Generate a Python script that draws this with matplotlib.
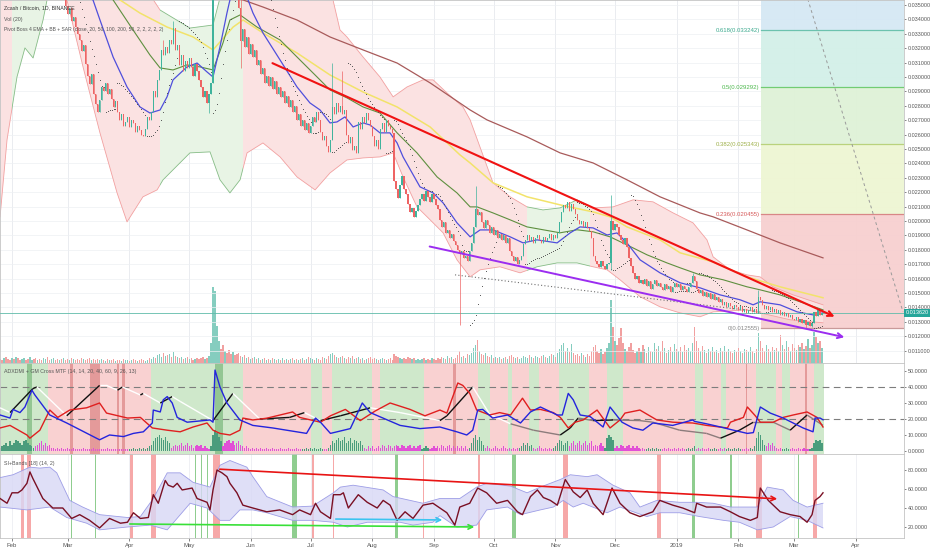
import numpy as np
import matplotlib
matplotlib.use("Agg")
import matplotlib.pyplot as plt
import matplotlib.dates as mdates
from matplotlib import font_manager
from matplotlib.patches import Rectangle
from matplotlib.collections import LineCollection
from matplotlib.ticker import FuncFormatter
from datetime import datetime, timedelta

# narrow font like the TradingView screenshot, fall back to Liberation Sans
try:
    font_manager.findfont("Liberation Sans Narrow", fallback_to_default=False)
    FONT, FS = "Liberation Sans Narrow", 1.0
except ValueError:
    FONT, FS = "Liberation Sans", 0.83
plt.rcParams["font.family"] = [FONT, "DejaVu Sans"]

# Zcash / Bitcoin, 1D, BINANCE
# prices in 1e-5 BTC, days counted from 2018-02-01, first candle 2018-01-26
first_day = -6
first_open = 4150
closes = [
    4120, 4050, 4180, 4010, 3950, 3880, 3920, 3760, 3840, 3790,
    3720, 3810, 3880, 3760, 3690, 3750, 3820, 3700, 3660, 3740,
    3690, 3630, 3710, 3780, 3650, 3600, 3680, 3720, 3640, 3590,
    3620, 3560, 3580, 3490, 3440, 3480, 3390, 3420, 3350, 3300,
    3260, 3180, 3220, 3090, 3010, 2950, 3020, 2880, 2810, 2760,
    2840, 2930, 2900, 2960, 2880, 2920, 2850, 2790, 2830, 2760,
    2700, 2740, 2660, 2690, 2720, 2650, 2700, 2680, 2620, 2660,
    2630, 2600, 2590, 2640, 2720, 2700, 2760, 2900, 2860, 2980,
    3050, 3190, 3150, 3210, 3170, 3260, 3230, 3340, 3190, 3220,
    3080, 3150, 3040, 3110, 3060, 3130, 3070, 3010, 3090, 3040,
    2980, 2930, 2860, 2900, 2820, 2880, 2960, 3700, 3900, 4050,
    4200, 4080, 3950, 4010, 3870, 3800, 3720, 3780, 3650, 3600,
    3480, 3250, 3330, 3210, 3280, 3160, 3230, 3140, 3190, 3080,
    3120, 3020, 3060, 2960, 3010, 2940, 3000, 2920, 2970, 2880,
    2930, 2860, 2900, 2820, 2870, 2790, 2840, 2760, 2800, 2700,
    2740, 2660, 2700, 2630, 2680, 2610, 2660, 2720, 2690, 2760,
    2700, 2620, 2560, 2590, 2520, 2480, 2560, 2790, 2740, 2820,
    2760, 2800, 2740, 2770, 2600, 2540, 2580, 2490, 2520, 2470,
    2690, 2640, 2720, 2680, 2750, 2700, 2660, 2590, 2520, 2560,
    2500, 2640, 2680, 2620, 2700, 2660, 2640, 2610, 2280, 2220,
    2160, 2250, 2310, 2220, 2190, 2120, 2060, 2090, 2030, 2070,
    2110, 2150, 2190, 2140, 2210, 2170, 2130, 2190, 2150, 2110,
    2080, 2010, 1960, 1990, 1920, 1940, 1880, 1910, 1860, 1830,
    1800, 1770, 1790, 1740, 1760, 1720, 1790, 1850, 1960, 2080,
    2040, 2060, 1990, 1950, 2010, 1970, 1920, 1960, 1900, 1940,
    1880, 1910, 1870, 1900, 1850, 1880, 1790, 1760, 1720, 1750,
    1700, 1730, 1760, 1840, 1870, 1900, 1860, 1890, 1850, 1880,
    1900, 1870, 1850, 1890, 1860, 1880, 1910, 1870, 1900, 1880,
    1920, 1990, 2060, 2110, 2090, 2130, 2070, 2120, 2080, 2050,
    2010, 1980, 2000, 1960, 1990, 1950, 1930, 1880, 1760, 1720,
    1700, 1680, 1720, 1690, 1670, 1700, 1710, 2000, 1940, 1980,
    1960, 1900, 1870, 1840, 1880, 1820, 1740, 1690, 1640, 1600,
    1620, 1570, 1590, 1560, 1600, 1550, 1580, 1530, 1560, 1590,
    1550, 1570, 1540, 1520, 1560, 1530, 1550, 1510, 1540, 1570,
    1540, 1560, 1520, 1550, 1530, 1510, 1540, 1570, 1620, 1580,
    1530, 1500, 1520, 1480, 1510, 1470, 1500, 1460, 1490, 1450,
    1470, 1440, 1460, 1420, 1440, 1400, 1430, 1410, 1390, 1420,
    1400, 1380, 1410, 1370, 1390, 1360, 1380, 1400, 1370, 1390,
    1360, 1470, 1450, 1420, 1390, 1410, 1380, 1400, 1370, 1390,
    1360, 1380, 1350, 1370, 1340, 1360, 1330, 1350, 1320, 1310,
    1330, 1300, 1320, 1290, 1310, 1280, 1300, 1270, 1290, 1370,
    1340, 1380, 1350, 1362,
]
volumes = [
    4, 3, 5, 6, 4, 3, 5, 4, 6, 5,
    3, 4, 5, 3, 4, 6, 3, 4, 5, 3,
    4, 3, 5, 4, 6, 3, 4, 5, 3, 4,
    3, 4, 5, 3, 4, 3, 5, 4, 3, 4,
    3, 5, 4, 3, 4, 5, 3, 4, 3, 4,
    3, 4, 3, 2, 4, 3, 3, 4, 2, 3,
    3, 2, 4, 3, 3, 2, 3, 4, 3, 2,
    3, 4, 3, 2, 3, 5, 4, 6, 5, 8,
    9, 6, 10, 7, 8, 9, 6, 11, 7, 6,
    5, 6, 4, 5, 6, 4, 5, 3, 4, 5,
    4, 5, 6, 4, 5, 7, 20, 76, 72, 37,
    22, 14, 18, 12, 10, 13, 9, 11, 8, 9,
    10, 7, 6, 8, 5, 6, 4, 5, 6, 4,
    5, 3, 4, 5, 3, 4, 3, 5, 4, 3,
    4, 3, 5, 3, 4, 3, 4, 5, 3, 4,
    3, 4, 5, 3, 4, 6, 5, 4, 3, 5,
    4, 3, 6, 5, 4, 7, 9, 10, 8, 6,
    5, 6, 7, 5, 4, 6, 5, 7, 4, 5,
    6, 4, 5, 3, 4, 5, 6, 4, 5, 4,
    3, 4, 5, 4, 3, 4, 5, 3, 9, 7,
    6, 5, 4, 5, 4, 6, 5, 4, 5, 3,
    4, 3, 4, 5, 3, 4, 3, 5, 4, 3,
    5, 4, 6, 5, 4, 7, 5, 6, 4, 5,
    8, 12, 6, 7, 5, 9, 8, 10, 15, 18,
    23, 12, 9, 8, 10, 7, 6, 8, 5, 6,
    5, 6, 4, 5, 6, 4, 7, 8, 6, 5,
    6, 4, 5, 7, 6, 5, 8, 6, 5, 7,
    6, 5, 7, 8, 6, 5, 7, 9, 8, 6,
    10, 14, 18, 20, 12, 15, 11, 19, 10, 8,
    9, 7, 10, 8, 6, 9, 7, 12, 16, 18,
    12, 10, 14, 9, 11, 15, 20, 63, 36, 22,
    18, 25, 35, 20, 14, 12, 16, 20, 13, 10,
    12, 15, 11, 18, 14, 10, 16, 12, 11, 20,
    14, 17, 12, 22, 15, 10, 13, 16, 11, 19,
    14, 12, 16, 11, 18, 13, 15, 12, 20, 36,
    22, 15, 12, 17, 13, 10, 14, 12, 16, 11,
    13, 10, 15, 12, 17, 11, 14, 12, 10, 13,
    11, 15, 12, 10, 14, 13, 11, 16, 12, 10,
    14, 30, 22, 15, 12, 18, 14, 11, 16, 13,
    15, 12, 28, 18, 14, 22, 16, 12, 19, 15,
    13, 18, 16, 20, 14, 17, 24, 15, 18, 31,
    26, 20, 22, 15,
]
osc_hist = [
    2, 3, 4, 5, 3, 6, 4, 5, 7, 6,
    5, 4, 6, 7, 5, 4, 3, 2, -3, -4,
    -5, -6, -4, -5, -3, -4, -2, -2, -1, -2,
    -1, -2, -1, -1, -2, -1, -1, -2, -1, -1,
    -1, -1, -2, -1, -1, -1, -1, -2, -1, -1,
    -1, -1, -1, -1, -2, -1, -1, -1, -1, -1,
    -1, -1, -1, -1, -1, 1, 1, 2, 1, 1,
    2, 1, 2, 1, 2, 3, 4, 6, 8, 9,
    10, 8, 7, 9, 6, 5, -2, -3, -4, -3,
    -4, -5, -3, -4, -5, -3, -4, -2, -3, -4,
    -3, -4, -2, -3, -2, -1, 3, 10, 13, 11,
    9, 6, -3, -5, -6, -7, -5, -6, -4, -5,
    -6, -4, -3, -2, -3, -2, -1, -2, -1, -2,
    -1, -2, -1, -1, -2, -1, -1, -2, -1, -1,
    -1, -2, -1, -1, -1, -2, -1, -1, -1, -2,
    -1, -1, 1, 1, 2, 1, 2, 1, 2, 1,
    1, 2, 1, -1, -1, 2, 4, 6, 5, 7,
    8, 6, 7, 9, 5, 6, 8, 5, 7, 6,
    5, 6, 4, -2, -1, -3, -2, -3, -1, -2,
    -3, -2, -4, -3, -2, -4, -3, -2, -3, -4,
    -3, -2, -4, -3, -2, -3, -4, -2, -3, -2,
    -3, -4, 1, 2, 3, 2, -1, -2, -3, -2,
    -3, -2, -4, -3, -2, -3, -4, -2, -3, -2,
    -3, -2, -3, -2, -3, -1, 2, 5, 8, 10,
    7, 9, 6, 4, -2, -3, -2, -1, -2, -3,
    -2, -1, -2, -3, -2, -1, -2, -1, -2, -1,
    -2, 2, 3, 5, 4, 5, 3, 4, -2, -1,
    -2, -3, -2, -1, -2, -1, -2, -1, 2, 3,
    5, 7, 6, 4, 5, 6, -3, -5, -6, -4,
    -5, -6, -4, -5, -6, -4, -5, -6, -3, -4,
    -3, -4, -5, -3, 2, 8, 10, 9, 7, -2,
    -3, -2, -4, -3, -2, -3, -4, -2, -3, -2,
    -3, -2, -1, -2, -1, 1, 2, 1, 2, 1,
    2, 1, 1, -1, -2, -1, -2, -1, -1, -2,
    -1, -2, -1, -2, -1, 1, 2, 1, 2, 3,
    -1, -2, -1, -2, -1, -1, -2, 1, 1, 2,
    1, -1, -2, -1, -2, 1, 2, 1, 1, 2,
    1, 2, 1, -1, -1, -2, -1, 2, 1, 3,
    8, 12, 10, 7, 4, -3, -5, -4, -5, -3,
    -2, -1, -2, 1, 1, 2, 1, -1, -2, -1,
    -1, -2, -1, -1, -2, -1, -1, 1, 2, 5,
    7, 6, 7, 5,
]

# notable wicks (day, high, low); nan = no wick on that side
nan = float("nan")
wick_day = [76, 81, 99, 115, 161, 166, 225, 233, 301, 342, 375, 399, 402]
wick_hi = [3260, 3390, nan, 3540, 3100, 3040, nan, 2240, 2180, 1640, 1520, nan, nan]
wick_lo = [nan, nan, 2750, 3060, nan, nan, 1279, nan, 1660, nan, nan, 1256, 1262]

# indicator lines: (day, price 1e-5 BTC)
ema20 = [(-6, 3900), (10, 3780), (25, 3680), (33, 3600), (40.7, 3535), (44.2, 3396), (50.8, 3139),
         (57.8, 2931), (64.3, 2792), (69.3, 2750), (74.4, 2771), (77.9, 2862), (80.9, 2980), (87.9, 3070),
         (93, 3097), (98, 3035), (101, 3000), (104.5, 3209), (108, 3444), (109.5, 3535), (113.6, 3610),
         (118.6, 3535), (121.1, 3444), (126.1, 3306), (134.7, 3118), (143.2, 2931), (149.7, 2820),
         (154.8, 2771), (159.8, 2681), (163.3, 2688), (167.3, 2723), (171.4, 2653), (176.4, 2681),
         (179.9, 2667), (184.9, 2612), (189.9, 2612), (193.5, 2542), (196.5, 2445), (205, 2237),
         (211.6, 2195), (216.6, 2126), (223.6, 1987), (230.2, 1890), (235.2, 1938), (241.7, 1938),
         (250.3, 1890), (256.8, 1848), (263.8, 1869), (273.9, 1848), (280.4, 1917), (285.4, 1959),
         (292, 1952), (299, 1903), (304, 1917), (309, 1848), (315.6, 1730), (325.6, 1640), (335.7, 1571),
         (345.7, 1536), (355.8, 1487), (365.8, 1453), (372.4, 1418), (375.9, 1439), (385.9, 1418),
         (394.5, 1369), (402.5, 1348), (407.5, 1362)]
ema50 = [(-6, 4000), (20, 3850), (40, 3700), (50.8, 3535), (60.8, 3327), (69.3, 3153), (74.4, 3063),
         (80.9, 3049), (87.9, 3084), (94.5, 3070), (101, 3049), (106, 3236), (109.5, 3396), (114.6, 3431),
         (123.1, 3347), (134.7, 3257), (143.2, 3139), (153.3, 3000), (159.8, 2910), (168.3, 2855),
         (176.4, 2792), (184.9, 2750), (193.5, 2612), (203.5, 2473), (213.6, 2306), (223.6, 2195),
         (230.2, 2098), (233.7, 2098), (241.7, 2056), (250.3, 2008), (258.8, 1959), (275.4, 1918),
         (283.9, 1939), (292, 1925), (300.5, 1890), (309, 1834), (319.1, 1765), (329.1, 1709),
         (335.7, 1675), (345.7, 1626), (357.3, 1592), (369.3, 1543), (375.9, 1522), (385.9, 1487),
         (396, 1439), (407.5, 1383)]
ema100 = [(-6, 3900), (30, 3800), (54.3, 3535), (64.3, 3444), (77.9, 3347), (91, 3278), (101, 3188),
          (111.1, 3347), (116.1, 3396), (126.1, 3306), (143.2, 3167), (159.8, 3014), (176.4, 2896),
          (193.5, 2792), (210.1, 2653), (225.1, 2459), (230.2, 2403), (241.7, 2265), (258.8, 2168),
          (275.4, 2112), (292, 2063), (300.5, 2029), (309, 1959), (325.6, 1869), (335.7, 1779),
          (352.3, 1716), (369.3, 1612), (385.9, 1543), (407.5, 1467)]
ema200 = [(-6, 3850), (60, 3700), (116.1, 3535), (126.1, 3486), (143.2, 3396), (159.8, 3278), (176.4, 3188),
          (193.5, 3097), (210.1, 2959), (230.2, 2771), (238.7, 2702), (258.8, 2584), (275.4, 2473),
          (292, 2403), (309, 2286), (325.6, 2168), (345.7, 2056), (352.3, 2029), (369.3, 1938),
          (385.9, 1848), (407.5, 1744)]
bb_upper = [(-6, 4576), (27.6, 4923), (57.8, 3812), (74.4, 3465), (89.4, 3340), (101, 3361), (105.5, 3604),
            (114.6, 3951), (134.7, 3951), (154.8, 3674), (161.3, 3535), (164.8, 3327), (168.3, 3278),
            (176.4, 3139), (184.9, 3000), (191.5, 2862), (198.5, 2931), (206.5, 2980), (211.6, 2980),
            (218.6, 2889), (226.6, 2792), (230.2, 2702), (241.7, 2265), (250.3, 2168), (258.8, 2098),
            (266.8, 2077), (275.4, 2091), (283.9, 2147), (292, 2091), (302, 2098), (312.1, 2147),
            (322.1, 2133), (332.2, 2056), (342.2, 1987), (349.2, 1869), (352.3, 1751), (360.8, 1661),
            (369.3, 1626), (375.9, 1612), (382.4, 1543), (392.5, 1487), (407.5, 1418)]
bb_lower = [(-6, 2029), (-2.5, 2563), (2.5, 3000), (6.5, 3202), (10.6, 3132), (15.6, 3396), (17.6, 3535),
            (22.6, 3674), (27.6, 3535), (35.7, 3070), (44.2, 2612), (52.8, 2195), (57.8, 1994), (65.8, 2168),
            (72.9, 2216), (75.9, 2286), (89.4, 2473), (99.5, 2480), (104.5, 2286), (109.5, 2195),
            (114.6, 2286), (118.1, 2473), (126.1, 2542), (134.7, 2445), (143.2, 2306), (152.3, 2216),
            (159.8, 2334), (168.3, 2424), (176.4, 2438), (184.9, 2445), (191.5, 2473), (196.5, 2306),
            (203.5, 2098), (210.1, 2008), (216.6, 1918), (223.6, 1730), (230.2, 1612), (235.2, 1661),
            (245.2, 1682), (255.3, 1640), (263.8, 1682), (273.9, 1709), (283.9, 1709), (292, 1682),
            (299, 1661), (305.5, 1592), (315.6, 1474), (325.6, 1404), (335.7, 1362), (345.7, 1335),
            (352.3, 1369), (369.3, 1383), (375.9, 1362), (391, 1314), (407.5, 1293)]
bb_green = [(0, 26.6), (74.4, 116), (258.8, 290.5)]

# drawings on the price pane
red_trend = [(129.6, 3104), (414.6, 1328)]
purple_trend = [(208.5, 1827), (419.6, 1189)]
dotted_trend = [(222.6, 1626), (376, 1369)]
fib_diag = [(390, 3989), (447.7, 1369)]
fib_start = 376.4
fib_ratio = ["0", "0.236", "0.382", "0.5", "0.618"]
fib_price = [0.012555, 0.020455, 0.025343, 0.029292, 0.033242]
last_price = 0.013620

# ADXDMI pane: (day, value)
di_plus = [(-6, 22.5), (-1, 20.6), (0.5, 26), (4, 24), (6.5, 27.5), (10, 38), (11.5, 35), (19, 22.5), (27.5, 17.5),
           (44, 7), (49, 10), (56, 9), (61, 11), (66, 12), (70.5, 17.5), (71, 25.6), (74.5, 24.4), (76, 32),
           (78, 34), (80.5, 30), (83, 21), (88, 18), (99.5, 19.4), (101, 18), (102, 50.6), (104.5, 40), (108, 30),
           (114.5, 19.4), (121, 16), (131, 14.4), (138, 13), (148, 11), (152.5, 20.6), (155, 18), (160, 11),
           (170, 14), (176, 30), (180, 24), (187.5, 20), (195, 16), (205, 14), (215, 15), (223.5, 12),
           (228.5, 10), (231.5, 13), (234, 25.6), (236.5, 26), (241.5, 20.6), (249, 22.5), (255.5, 17.5),
           (260.5, 24.4), (265.5, 27.5), (274, 22.5), (276.5, 22.5), (279.5, 36), (282, 32), (285.5, 22.5),
           (290.5, 21.5), (297, 15), (300.5, 27.5), (306.5, 18), (312, 14.4), (317, 13), (322, 17.5),
           (325.5, 17), (332, 16), (342, 19.4), (343, 18.5), (349, 17), (356, 15), (362.5, 13), (369.5, 11),
           (372.5, 11.5), (376, 27.5), (381, 23.7), (387.5, 20.6), (392.5, 17.5), (397.5, 14.4), (402.5, 12),
           (403.5, 20.6), (406, 20.6), (407.5, 19.5)]
di_minus = [(-6, 14.4), (-1, 16), (7.5, 10), (9, 8), (14, 13), (19, 25.6), (23, 21), (29, 25.6), (37.5, 27),
            (44, 30), (47.5, 23.7), (58, 20.6), (64.5, 21), (70.5, 14.4), (78, 13), (84.5, 12), (91, 15),
            (98, 17.5), (101, 13), (104.5, 11), (109.5, 10), (114.5, 13), (116, 20.6), (121, 19.4), (128, 20.5),
            (141, 24.4), (144.5, 21), (155, 18), (160, 22), (167.5, 26), (175, 19), (182.5, 25), (190, 30),
            (200, 26), (207.5, 22), (215, 25.6), (218.5, 23.7), (221.5, 34), (224, 42.5), (226.5, 41),
            (230, 36), (233.5, 25.6), (240, 22.5), (245, 24), (250.5, 22.5), (256.5, 33), (260.5, 25.6),
            (265.5, 26), (272, 24), (275.5, 21), (279.5, 14.4), (283, 18), (287, 19.4), (294, 25.6),
            (300.5, 14.4), (305.5, 19.4), (308, 23.7), (315.5, 25.6), (324, 19.4), (332, 18), (342, 17.5),
            (349, 16), (359.5, 14.4), (361, 18), (367.5, 21), (369.5, 27.5), (373.5, 22), (376, 18),
            (382.5, 18), (387.5, 21), (392.5, 22.5), (399.5, 24.4), (404.5, 21), (407.5, 15)]
adx = [(-6, 27), (-1, 24), (10.5, 39), (12.5, 40), (27.5, 22), (44, 41), (47.5, 41), (53, 38), (55.5, 40),
       (64.5, 35), (66, 36), (74.5, 30), (80.5, 34), (84.5, 31), (101, 19), (111, 36), (124.5, 20),
       (139.5, 21), (147, 24), (155, 19), (165, 22), (180, 27), (195, 24), (215, 19), (218.5, 22),
       (231.5, 40), (240, 23), (250.5, 17), (262, 13), (275.5, 10), (280.5, 14.4), (284.5, 20.6), (292, 19),
       (302, 19.4), (315.5, 19), (322, 18), (335.5, 13), (349, 11), (356, 8), (365.5, 13), (372.5, 18),
       (382.5, 18), (391, 13), (399.5, 22.5), (407.5, 16)]
adx_edges = [-6, 18, 70, 116, 150, 156, 161, 181, 185, 207, 234, 240, 249, 251, 260, 265, 275, 290,
             299, 307, 343, 347, 356, 359, 374, 384, 387, 391, 403, 408]
adx_trend = "GR" * 14 + "G"
adx_marks = [(9, 2.5, "G"), (30, 1.5, "R"), (41.5, 5, "R"), (53.5, 1, "R"), (56, 1.5, "R"),
             (104, 4, "G"), (222.5, 1.5, "R"), (369, 0.8, "R"), (399, 0.8, "R")]

# SI+Bands pane
si = [(-6, 50), (-2.5, 45), (0, 56), (3, 56), (5, 59), (7.5, 66), (9, 78), (10.5, 71), (15.5, 50), (20.5, 40),
      (25.5, 40), (30, 29), (34, 33), (39, 27), (44, 19), (49, 29), (54.5, 24), (58, 25), (61, 35), (64.5, 29),
      (68.5, 30), (71, 54), (73.5, 45), (77, 69), (78.5, 64), (81, 62), (83, 66), (85.5, 59), (90.5, 61),
      (93, 50), (98, 46), (99.5, 38), (101, 59), (103, 80), (105.5, 77), (108, 73), (109.5, 66), (113, 56),
      (116, 43), (121, 40), (128, 36), (134.5, 38), (141, 33), (144.5, 38), (150, 33), (152.5, 45), (155, 36),
      (160, 29), (161.5, 54), (165, 54), (166.5, 56), (169, 40), (174, 54), (178.5, 46), (183.5, 40),
      (186.5, 48), (190, 43), (193.5, 27), (197.5, 36), (201.5, 29), (206.5, 43), (211.5, 45), (215, 40),
      (218.5, 35), (222.5, 22), (225, 41), (230, 45), (234, 61), (238.5, 56), (243.5, 45), (249, 48),
      (254, 36), (256.5, 33), (260.5, 52), (264, 59), (267, 51), (270.5, 48), (274, 43), (278, 70), (282, 57),
      (285.5, 51), (289, 59), (292, 45), (297, 33), (301.5, 61), (305.5, 45), (310.5, 35), (315.5, 31),
      (322, 36), (325.5, 48), (332, 43), (337, 40), (343, 35), (344, 45), (349, 41), (356, 41), (361, 36),
      (365.5, 31), (371, 27), (374.5, 30), (376, 61), (380, 48), (386, 36), (391, 33), (396, 31), (399.5, 25),
      (402, 33), (403.5, 48), (406, 52), (407.5, 56)]
si_upper = [(-6, 72), (0.5, 75), (9, 83), (14, 82), (19, 83), (22.5, 77), (29, 48), (35.5, 41), (44, 33), (58, 30),
            (64.5, 31), (71, 50), (78, 77), (84.5, 77), (91, 67), (99.5, 62), (104.5, 85), (109.5, 90), (118, 83),
            (121, 73), (128, 52), (141, 41), (151, 42), (161.5, 56), (165, 62), (171.4, 64), (186.5, 59),
            (191.5, 52), (206.5, 45), (211.5, 48), (215, 50), (225, 50), (233.5, 62), (238.5, 66), (250.5, 63),
            (258.8, 56), (265.5, 62), (275.5, 70), (280.5, 75), (289, 73), (294, 75), (302, 64), (310.5, 56),
            (315.5, 41), (324, 48), (335.5, 46), (344, 46), (352.3, 45), (361, 41), (374.5, 41), (379.5, 62),
            (387.5, 59), (392.5, 48), (399.5, 41), (407.5, 45)]
si_lower = [(-6, 41), (7.5, 38), (19, 41), (27.5, 30), (37.5, 24), (44, 17), (58, 20), (69.5, 22), (78, 17),
            (89.5, 45), (98, 40), (104.5, 27), (109.5, 27), (114.5, 38), (121, 38), (128, 35), (141, 27),
            (151, 27), (161.5, 25), (168.5, 20), (178.5, 25), (190, 25), (195, 25), (201.5, 22), (211.5, 25),
            (215, 32), (223.5, 20), (233.5, 22), (238.5, 38), (249, 41), (255.5, 33), (265.5, 38), (272, 41),
            (277, 48), (282, 41), (287, 45), (299, 35), (305.5, 41), (319, 31), (325.5, 35), (335.5, 35),
            (345.5, 31), (357.5, 27), (365.5, 25), (374.5, 17), (382.5, 20), (391, 31), (399.5, 27), (407.5, 19)]
si_red_sig = [(4.5, 6), (7.5, 9.5), (59.3, 60.8), (70, 72.4), (101, 104.5), (150.8, 151.8), (161.3, 161.8),
              (206.5, 207), (234, 235), (277, 279.4), (324, 326), (374, 377), (402.5, 404.5)]
si_green_sig = [(29.6, 30.2), (41.7, 42.2), (91.8, 92.3), (94.8, 95.3), (98.2, 98.7), (140.7, 143.2),
                (192.5, 194), (251, 253.3), (341.7, 343.2), (360.8, 361.8), (395, 395.5)]
si_red_line = [(103, 81), (385.9, 49.5)]
si_green_line = [(57.8, 23.2), (233.7, 20)]
si_cyan_line = [(161.3, 28.4), (217.6, 27.4)]

# ---------------------------------------------------------------
t0 = mdates.date2num(datetime(2018, 2, 1))
days = np.arange(first_day, first_day + len(closes))
t = t0 + days


def pts(series, scale=1.0):
    a = np.array(series, float)
    return t0 + a[:, 0], a[:, 1] * scale


c = np.array(closes, float) * 1e-5
o = np.r_[first_open, closes[:-1]].astype(float) * 1e-5
hi = np.maximum(o, c)
lo = np.minimum(o, c)
for d, h, l in zip(wick_day, wick_hi, wick_lo):
    i = d - first_day
    if not np.isnan(h):
        hi[i] = h * 1e-5
    if not np.isnan(l):
        lo[i] = l * 1e-5
up = c >= o


def psar(high, low, step=0.02, top=0.2):
    n = len(high)
    out = np.zeros(n)
    rising = False
    af = step
    ep = low[0]
    out[0] = high[0]
    for i in range(1, n):
        s = out[i - 1] + af * (ep - out[i - 1])
        if rising:
            s = min(s, low[i - 1], low[max(i - 2, 0)])
            if low[i] < s:
                rising, s, ep, af = False, ep, low[i], step
            elif high[i] > ep:
                ep, af = high[i], min(af + step, top)
        else:
            s = max(s, high[i - 1], high[max(i - 2, 0)])
            if high[i] > s:
                rising, s, ep, af = True, ep, high[i], step
            elif low[i] < ep:
                ep, af = low[i], min(af + step, top)
        out[i] = s
    return out


sar = psar(hi, lo)

UP, DN = "#3fb39c", "#ee6464"
W, H = 932, 550
fig = plt.figure(figsize=(W / 100, H / 100), dpi=100)


def rect(top, bottom):
    return [0, 1 - bottom / H, 904 / W, (bottom - top) / H]


ax_vol = fig.add_axes(rect(0, 363))
ax = fig.add_axes(rect(0, 363), sharex=ax_vol)
ax.set_facecolor("none")
ax_adx = fig.add_axes(rect(363, 454), sharex=ax_vol)
ax_si = fig.add_axes(rect(454, 538), sharex=ax_vol)

xmin, xmax = t0 - 6.03, t0 + 448.2
ax_vol.set_xlim(xmin, xmax)
month_starts = [mdates.date2num(d) for d in
                (datetime(2018, 2, 1) + timedelta(days=k) for k in range(430)) if d.day == 1]
for m in month_starts:
    ax_vol.axvline(m, color="#e6e9ee", lw=0.6, zorder=0)
    ax_si.axvline(m, color="#eceef2", lw=0.6, zorder=0)

# volume
vol = np.array(volumes, float)
ax_vol.bar(t, vol, width=0.62, color=np.where(up, "#85cdbf", "#f1a0a0"), lw=0)
ax_vol.set_ylim(0, vol.max() * 363 / 76)
ax_vol.set_yticks([])
ax_vol.tick_params(bottom=False, labelbottom=False)
for s in ax_vol.spines.values():
    s.set_visible(False)

# price pane
ymin, ymax = 0.035 - 358 / 14400, 0.035 + 5 / 14400
ax.set_ylim(ymin, ymax)
for p in np.arange(0.011, 0.0355, 0.001):
    ax.axhline(p, color="#edf0f3", lw=0.5, zorder=0.5)

ux, uy = pts(bb_upper, 1e-5)
lx, ly = pts(bb_lower, 1e-5)
poly_x = np.r_[ux, lx[::-1]]
poly_y = np.r_[uy, ly[::-1]]
green_iv = [(t0 + a, t0 + b) for a, b in bb_green]
edges = [xmin - 10] + [v for iv in green_iv for v in iv] + [xmax + 10]
pink_iv = [(edges[i], edges[i + 1]) for i in range(0, len(edges), 2)]
for ivs, fcol, lcol in ((pink_iv, "#fbe2e2", "#f2a0a0"), (green_iv, "#e8f4e5", "#86bc86")):
    for a, b in ivs:
        clip = Rectangle((a, 0), b - a, 1, transform=ax.transData)
        for patch in ax.fill(poly_x, poly_y, color=fcol, lw=0, zorder=1):
            patch.set_clip_path(clip)
        for xs, ys in ((ux, uy), (lx, ly)):
            ln, = ax.plot(xs, ys, color=lcol, lw=0.6, zorder=2)
            ln.set_clip_path(clip)

for series, col, lw in ((ema200, "#a85a5a", 0.9), (ema100, "#f2e36a", 1.1),
                        (ema50, "#5e8f3f", 0.8), (ema20, "#4f4fdc", 0.9)):
    xs, ys = pts(series, 1e-5)
    ax.plot(xs, ys, color=col, lw=lw, zorder=3)

# fib retracement
fib_cols = ["#f7d0d0", "#eef6d3", "#dff2d7", "#d3f0e8", "#d5e8f4"]
fib_lines = ["#c99a9a", "#d88787", "#b9d27c", "#72cc72", "#6cc2ae"]
fib_text = ["#888888", "#d65a5a", "#9eb04a", "#4cb84c", "#3aa98d"]
bounds = fib_price + [ymax]
for i in range(5):
    ax.add_patch(Rectangle((t0 + fib_start, bounds[i]), xmax - t0 - fib_start, bounds[i + 1] - bounds[i],
                           color=fib_cols[i], lw=0, zorder=0.8, alpha=0.95))
    ax.plot([t0 + fib_start, xmax], [fib_price[i], fib_price[i]], color=fib_lines[i], lw=0.9, zorder=2)
    ax.text(t0 + fib_start - 0.8, fib_price[i], f"{fib_ratio[i]}({fib_price[i]:.6f})", fontsize=5.2 * FS,
            color=fib_text[i], ha="right", va="center", zorder=7)
fx, fy = pts(fib_diag, 1e-5)
ax.plot(fx, fy, color="#9a9a9a", lw=0.7, ls=(0, (3, 3)), zorder=2)

# candles
colors = np.where(up, UP, DN)
ax.vlines(t, lo, hi, color=colors, lw=0.5, zorder=5)
ax.bar(t, np.maximum(np.abs(c - o), 0.00004), bottom=np.minimum(o, c), width=0.62, color=colors, lw=0, zorder=6)
ax.scatter(t, sar, s=0.5, color="#555555", lw=0, zorder=4)

ax.axhline(last_price, color="#5fbcaa", lw=0.6, zorder=4)

for line, col, lw in ((red_trend, "#f01212", 1.5), (purple_trend, "#9b2df0", 1.4)):
    xs, ys = pts(line, 1e-5)
    ax.annotate("", xy=(xs[1], ys[1]), xytext=(xs[0], ys[0]),
                arrowprops=dict(arrowstyle="->", color=col, lw=lw, mutation_scale=9), zorder=8)
dx, dy = pts(dotted_trend, 1e-5)
ax.plot(dx, dy, color="#707070", lw=0.8, ls=(0, (1, 2)), zorder=4)

ax.set_yticks(np.arange(0.011, 0.0355, 0.001))
ax.yaxis.set_major_formatter(FuncFormatter(lambda v, p: f"{v:.6f}"))
ax.text(1.0015, last_price, f"{last_price:.6f}", transform=ax.get_yaxis_transform(), fontsize=4.8 * FS,
        color="white", ha="left", va="center", zorder=9,
        bbox=dict(boxstyle="square,pad=0.3", fc="#26a69a", ec="none"), clip_on=False)

fig.text(4 / W, 1 - 8 / H, "Zcash / Bitcoin, 1D, BINANCE", fontsize=4.6 * FS, color="#333333", va="center")
fig.text(4 / W, 1 - 19 / H, "Vol (20)", fontsize=4.6 * FS, color="#555555", va="center")
fig.text(4 / W, 1 - 30 / H, "Pivot Boss 4 EMA + BB + SAR (close, 20, 50, 100, 200, 50, 2, 2, 2, 2, 2)",
         fontsize=4.4 * FS, color="#555555", va="center")

# ADX pane
ax_adx.set_ylim((451 - 454) / 1.6, (451 - 363) / 1.6)
for i, k in enumerate(adx_trend):
    ax_adx.axvspan(t0 + adx_edges[i], t0 + adx_edges[i + 1], color="#cfe8cb" if k == "G" else "#f9d1d1",
                   lw=0, zorder=0)
for d, w, k in adx_marks:
    ax_adx.axvspan(t0 + d - w / 2, t0 + d + w / 2, color="#93c693" if k == "G" else "#e49a9a", lw=0, zorder=0.5)
for lvl in (40, 20):
    ax_adx.axhline(lvl, color="#7d7d7d", lw=0.8, ls=(0, (6, 4)), zorder=1)
hv = np.array(osc_hist, float)
ax_adx.bar(t, np.abs(hv), width=0.6, color=np.where(hv > 0, "#4a9c7c", "#e150d6"), lw=0, zorder=2)
ax_, ay_ = pts(adx)
segs = [[(ax_[i], ay_[i]), (ax_[i + 1], ay_[i + 1])] for i in range(len(ax_) - 1)]
seg_cols = ["#111111" if ay_[i + 1] > ay_[i] else ("#ffffff" if ax_[i] < t0 + 250 else "#8c7c7c")
            for i in range(len(ax_) - 1)]
ax_adx.add_collection(LineCollection(segs, colors=seg_cols, lw=1.0, zorder=3))
for series, col in ((di_minus, "#e01f1f"), (di_plus, "#2424dd")):
    xs, ys = pts(series)
    ax_adx.plot(xs, ys, color=col, lw=1.0, zorder=4)
ax_adx.set_yticks([0, 10, 20, 30, 40, 50])
ax_adx.yaxis.set_major_formatter(FuncFormatter(lambda v, p: f"{v:.4f}"))
ax_adx.text(4 / 904, 1 - 9 / 91, "ADXDMI + GM Cross MTF (14, 14, 20, 40, 60, 9, 26, 13)",
            transform=ax_adx.transAxes, fontsize=4.6 * FS, color="#555555", va="center", zorder=6)

# SI pane
ax_si.set_ylim((546 - 538) / 0.95, (546 - 454) / 0.95)
for a, b in si_red_sig:
    ax_si.axvspan(t0 + a, t0 + b, color="#f6a8a8", lw=0, zorder=1)
for a, b in si_green_sig:
    ax_si.axvspan(t0 + a, t0 + b, color="#8fcd8f", lw=0, zorder=1)
sux, suy = pts(si_upper)
slx, sly = pts(si_lower)
ax_si.fill(np.r_[sux, slx[::-1]], np.r_[suy, sly[::-1]], color="#d8d8f6", alpha=0.8, lw=0, zorder=2)
ax_si.plot(sux, suy, color="#9d9de6", lw=0.6, zorder=3)
ax_si.plot(slx, sly, color="#9d9de6", lw=0.6, zorder=3)
sx, sy = pts(si)
ax_si.plot(sx, sy, color="#7a1024", lw=1.0, zorder=4)
for line, col in ((si_green_line, "#38e038"), (si_cyan_line, "#3cc4f0"), (si_red_line, "#e81414")):
    xs, ys = pts(line)
    ax_si.annotate("", xy=(xs[1], ys[1]), xytext=(xs[0], ys[0]),
                   arrowprops=dict(arrowstyle="->", color=col, lw=1.2, mutation_scale=8), zorder=5)
ax_si.set_yticks([20, 40, 60, 80])
ax_si.yaxis.set_major_formatter(FuncFormatter(lambda v, p: f"{v:.4f}"))
ax_si.text(4 / 904, 1 - 9 / 84, "SI+Bands [18] (14, 2)", transform=ax_si.transAxes, fontsize=4.6 * FS,
           color="#555555", va="center", zorder=6)

ax_si.xaxis.set_major_locator(mdates.MonthLocator())
ax_si.xaxis.set_major_formatter(FuncFormatter(
    lambda v, p: str(mdates.num2date(v).year) if mdates.num2date(v).month == 1 else mdates.num2date(v).strftime("%b")))

for a in (ax, ax_adx, ax_si):
    a.yaxis.tick_right()
    a.tick_params(axis="y", length=1.5, width=0.5, colors="#555555", labelsize=4.7 * FS, pad=1)
    for s in a.spines.values():
        s.set_color("#c4c4c4")
        s.set_linewidth(0.6)
for a in (ax, ax_adx):
    a.tick_params(axis="x", bottom=False, labelbottom=False)
ax_si.tick_params(axis="x", length=2, width=0.5, colors="#555555", labelsize=5.2 * FS, pad=1.5)

fig.savefig("out.png", dpi=100)
